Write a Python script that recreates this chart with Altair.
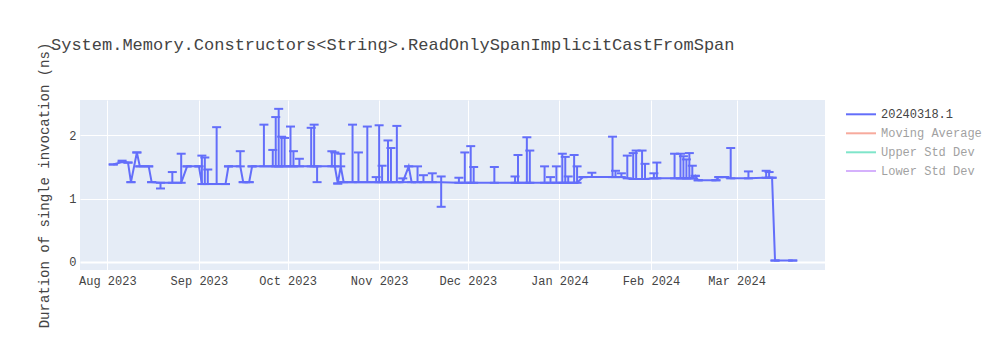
import altair as alt
import pandas as pd

TITLE = "System.Memory.Constructors<String>.ReadOnlySpanImplicitCastFromSpan"
Y_TITLE = "Duration of single invocation (ns)"
LEGEND_NAMES = ["20240318.1", "Moving Average", "Upper Std Dev", "Lower Std Dev"]
LEGEND_COLORS = ["#636efa", "#EF553B", "#00cc96", "#ab63fa"]
LEGEND_ACTIVE = [True, False, False, False]
LINE_COLOR = "#636efa"

dates = [
    "2023-08-03", "2023-08-06", "2023-08-08", "2023-08-09", "2023-08-11", "2023-08-12",
    "2023-08-15", "2023-08-16", "2023-08-19", "2023-08-23", "2023-08-26", "2023-08-28",
    "2023-09-01", "2023-09-02", "2023-09-03", "2023-09-04", "2023-09-07", "2023-09-10",
    "2023-09-11", "2023-09-15", "2023-09-16", "2023-09-18", "2023-09-19", "2023-09-23",
    "2023-09-26", "2023-09-27", "2023-09-28", "2023-09-29", "2023-09-30", "2023-10-02",
    "2023-10-03", "2023-10-05", "2023-10-09", "2023-10-10", "2023-10-11", "2023-10-16",
    "2023-10-17", "2023-10-18", "2023-10-19", "2023-10-20", "2023-10-23", "2023-10-25",
    "2023-10-28", "2023-10-31", "2023-11-01", "2023-11-02", "2023-11-04", "2023-11-05",
    "2023-11-07", "2023-11-09", "2023-11-11", "2023-11-12", "2023-11-14", "2023-11-16",
    "2023-11-19", "2023-11-22", "2023-11-28", "2023-11-30", "2023-12-02", "2023-12-03",
    "2023-12-10", "2023-12-17", "2023-12-18", "2023-12-21", "2023-12-22", "2023-12-27",
    "2023-12-29", "2023-12-31", "2024-01-02", "2024-01-03", "2024-01-04", "2024-01-06",
    "2024-01-07", "2024-01-09", "2024-01-12", "2024-01-19", "2024-01-20", "2024-01-22",
    "2024-01-24", "2024-01-26", "2024-01-27", "2024-01-29", "2024-01-30", "2024-02-02",
    "2024-02-03", "2024-02-09", "2024-02-11", "2024-02-12", "2024-02-13", "2024-02-14",
    "2024-02-15", "2024-02-16", "2024-02-17", "2024-02-23", "2024-02-24", "2024-02-26",
    "2024-02-28", "2024-03-05", "2024-03-11", "2024-03-12", "2024-03-13", "2024-03-14",
    "2024-03-20",
]
values = [
    1.54, 1.58, 1.57, 1.26, 1.73, 1.51,
    1.51, 1.26, 1.25, 1.25, 1.25, 1.51,
    1.51, 1.23, 1.23, 1.23, 1.23, 1.23,
    1.51, 1.51, 1.26, 1.26, 1.51, 1.51,
    1.51, 1.51, 1.51, 1.51, 1.51, 1.51,
    1.51, 1.51, 1.51, 1.51, 1.51, 1.51,
    1.51, 1.24, 1.51, 1.26, 1.26, 1.26,
    1.26, 1.26, 1.26, 1.26, 1.26, 1.26,
    1.26, 1.26, 1.51, 1.26, 1.26, 1.26,
    1.26, 1.26, 1.25, 1.25, 1.25, 1.25,
    1.25, 1.25, 1.25, 1.25, 1.25, 1.25,
    1.25, 1.25, 1.25, 1.25, 1.25, 1.25,
    1.25, 1.34, 1.34, 1.34, 1.34, 1.34,
    1.32, 1.31, 1.31, 1.31, 1.31, 1.32,
    1.32, 1.32, 1.32, 1.32, 1.32, 1.32,
    1.32, 1.36, 1.29, 1.29, 1.34, 1.34,
    1.32, 1.32, 1.33, 1.33, 1.33, 0.02,
    0.02,
]
lows = [
    1.54, 1.58, 1.57, 1.26, 1.73, 1.51,
    1.51, 1.26, 1.16, 1.25, 1.25, 1.51,
    1.51, 1.23, 1.23, 1.23, 1.23, 1.23,
    1.51, 1.51, 1.26, 1.26, 1.51, 1.51,
    1.51, 1.51, 1.51, 1.51, 1.51, 1.51,
    1.51, 1.51, 1.51, 1.51, 1.26, 1.51,
    1.51, 1.24, 1.51, 1.26, 1.26, 1.26,
    1.26, 1.26, 1.26, 1.26, 1.26, 1.26,
    1.26, 1.26, 1.51, 1.26, 1.26, 1.26,
    1.26, 0.87, 1.25, 1.25, 1.25, 1.25,
    1.25, 1.25, 1.25, 1.25, 1.25, 1.25,
    1.25, 1.25, 1.25, 1.25, 1.25, 1.25,
    1.25, 1.34, 1.34, 1.34, 1.34, 1.34,
    1.32, 1.31, 1.31, 1.31, 1.31, 1.32,
    1.32, 1.32, 1.32, 1.32, 1.32, 1.32,
    1.32, 1.36, 1.29, 1.29, 1.34, 1.34,
    1.32, 1.32, 1.33, 1.33, 1.33, 0.02,
    0.02,
]
highs = [
    1.54, 1.60, 1.57, 1.26, 1.73, 1.51,
    1.51, 1.26, 1.25, 1.42, 1.71, 1.51,
    1.51, 1.68, 1.65, 1.46, 2.13, 1.23,
    1.51, 1.75, 1.26, 1.26, 1.51, 2.17,
    1.77, 2.29, 2.42, 1.98, 1.96, 2.14,
    1.75, 1.63, 2.12, 2.17, 1.51, 1.75,
    1.73, 1.24, 1.71, 1.26, 2.17, 1.73,
    2.14, 1.34, 2.16, 1.52, 1.92, 1.80,
    2.15, 1.32, 1.51, 1.26, 1.51, 1.37,
    1.40, 1.35, 1.33, 1.73, 1.83, 1.50,
    1.50, 1.35, 1.69, 1.97, 1.76, 1.51,
    1.34, 1.51, 1.71, 1.66, 1.35, 1.69,
    1.51, 1.34, 1.41, 1.98, 1.44, 1.40,
    1.68, 1.72, 1.76, 1.76, 1.55, 1.40,
    1.57, 1.71, 1.71, 1.67, 1.62, 1.72,
    1.52, 1.36, 1.29, 1.29, 1.34, 1.34,
    1.80, 1.43, 1.44, 1.42, 1.33, 0.02,
    0.02,
]

df = pd.DataFrame({"date": dates, "value": values, "low": lows, "high": highs})

FONT = "Liberation Mono"
x_scale = alt.Scale(domain=[alt.DateTime(year=2023, month=7, date=22, hours=18),
                            alt.DateTime(year=2024, month=3, date=30, hours=22)])
y_scale = alt.Scale(domain=[-0.13, 2.56], nice=False, zero=False)

x_enc = alt.X("date:T", scale=x_scale, title=None,
              axis=alt.Axis(format="%b %Y", tickCount={"interval": "month", "step": 1},
                            grid=True, gridColor="white", gridWidth=1, domain=False,
                            ticks=False, tickSize=0, labelPadding=5, labelFont=FONT,
                            labelFontSize=12, labelColor="#444", labelFlush=False))
y_axis = alt.Axis(values=[0, 1, 2], format="d", grid=True, gridColor="white",
                  gridWidth={"condition": {"test": "datum.value === 0", "value": 2}, "value": 1},
                  domain=False, ticks=False, tickSize=0, labelPadding=4, labelFont=FONT,
                  labelFontSize=12, labelColor="#444", title=Y_TITLE, titleFont=FONT,
                  titleFontSize=14, titleFontWeight="normal", titleColor="#444",
                  titleAngle=270, titleX=-36, titleY=85, titleAlign="center",
                  titleBaseline="middle")

base = alt.Chart(df)
line = base.mark_line(color=LINE_COLOR, strokeWidth=2).encode(
    x=x_enc, y=alt.Y("value:Q", scale=y_scale, axis=y_axis))
bars = base.mark_rule(color=LINE_COLOR, strokeWidth=2).encode(
    x="date:T", y="low:Q", y2="high:Q")
cap_hi = base.mark_tick(color=LINE_COLOR, orient="horizontal", size=9, thickness=2,
                        opacity=1).encode(x="date:T", y="high:Q")
cap_lo = base.mark_tick(color=LINE_COLOR, orient="horizontal", size=9, thickness=2,
                        opacity=1).encode(x="date:T", y="low:Q")

title_df = pd.DataFrame({"t": [TITLE]})
title = alt.Chart(title_df).mark_text(
    align="left", baseline="alphabetic", font=FONT, fontSize=17, color="#444"
).encode(text="t:N", x=alt.value(-29), y=alt.value(-50.5))

legend_layers = []
row_y = [14.3, 33.3, 52.3, 71]
for name, col, active, yy in zip(LEGEND_NAMES, LEGEND_COLORS, LEGEND_ACTIVE, row_y):
    op = 1.0 if active else 0.5
    ldf = pd.DataFrame({"name": [name]})
    sym = alt.Chart(ldf).mark_rule(color=col, strokeWidth=2, opacity=op).encode(
        x=alt.value(766), x2=alt.value(796), y=alt.value(yy))
    txt = alt.Chart(ldf).mark_text(
        align="left", baseline="middle", font=FONT, fontSize=12, color="#444", opacity=op
    ).encode(text="name:N", x=alt.value(801), y=alt.value(yy))
    legend_layers += [sym, txt]

chart = alt.layer(line, bars, cap_hi, cap_lo, title, *legend_layers).properties(
    width=745, height=170,
    autosize=alt.AutoSizeParams(type="none"),
    padding={"left": 80, "top": 100, "right": 175, "bottom": 80},
    background="white",
).configure_view(fill="#E5ECF6", stroke=None)

chart.save("out.html", embed_options={"renderer": "svg", "actions": False})
